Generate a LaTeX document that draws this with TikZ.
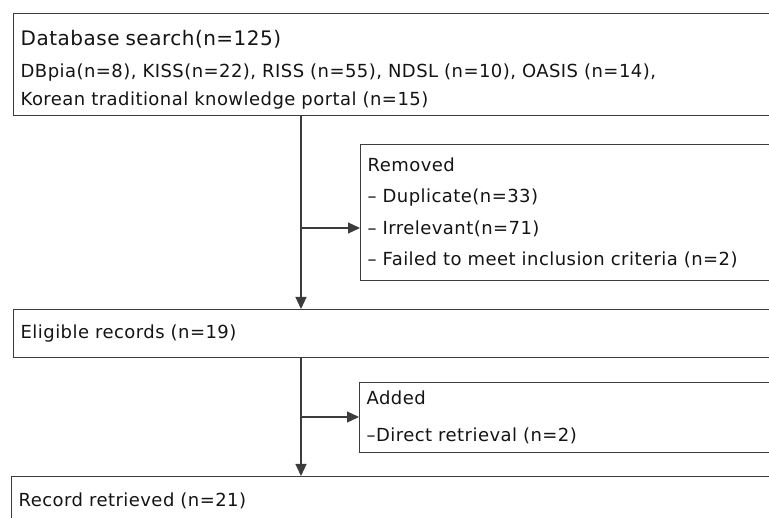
\documentclass[tikz,border=0pt]{standalone}
\usepackage{fontspec}
\setmainfont{DejaVu Sans}[LetterSpace=2.5]
\usetikzlibrary{arrows.meta}
\definecolor{edge}{HTML}{3C3C3C}
\definecolor{ink}{HTML}{141414}
\tikzset{
  box/.style={draw=edge, line width=1.3pt, anchor=north west, inner xsep=7pt,
    inner ysep=0pt, text width=780pt, align=left, text=ink},
  flow/.style={draw=edge, line width=1.2pt, -{Triangle[length=12pt,width=11pt]}},
}
\newcommand{\headline}[1]{{\fontsize{20}{28}\selectfont\rule{0pt}{25pt}#1}}
\begin{document}
\begin{tikzpicture}[x=1pt,y=-1pt]
\useasboundingbox (0,0) rectangle (769,518);
\clip (0,0) rectangle (769,518);

% main stages of the search
\node[box, minimum height=102pt, font=\fontsize{18}{28}\selectfont] (db) at (13,13)
  {\headline{Database search(n=125)}\\[3.5pt]
   DBpia(n=8), KISS(n=22), RISS (n=55), NDSL (n=10), OASIS (n=14),\\
   Korean traditional knowledge portal (n=15)};
\node[box, minimum height=48pt, font=\fontsize{18}{30}\selectfont] (elig) at (13,309)
  {Eligible records (n=19)};
\node[box, minimum height=48pt, font=\fontsize{18}{30}\selectfont] (rec) at (11,476)
  {Record retrieved (n=21)};

% side boxes
\node[box, minimum height=136pt, font=\fontsize{18}{31.5}\selectfont] (removed) at (360,144)
  {Removed\\
   – Duplicate(n=33)\\
   – Irrelevant(n=71)\\
   – Failed to meet inclusion criteria (n=2)};
\node[box, minimum height=70pt, font=\fontsize{18}{37}\selectfont] (added) at (359,382)
  {Added\\
   –Direct retrieval (n=2)};

% branch points on the main line
\coordinate (split1) at (301,228);
\coordinate (split2) at (301,417);

\draw[flow] (db.south -| split1) -- (elig.north -| split1);
\draw[flow] (split1) -- (split1 -| removed.west);
\draw[flow] (elig.south -| split2) -- (rec.north -| split2);
\draw[flow] (split2) -- (split2 -| added.west);
\end{tikzpicture}
\end{document}
